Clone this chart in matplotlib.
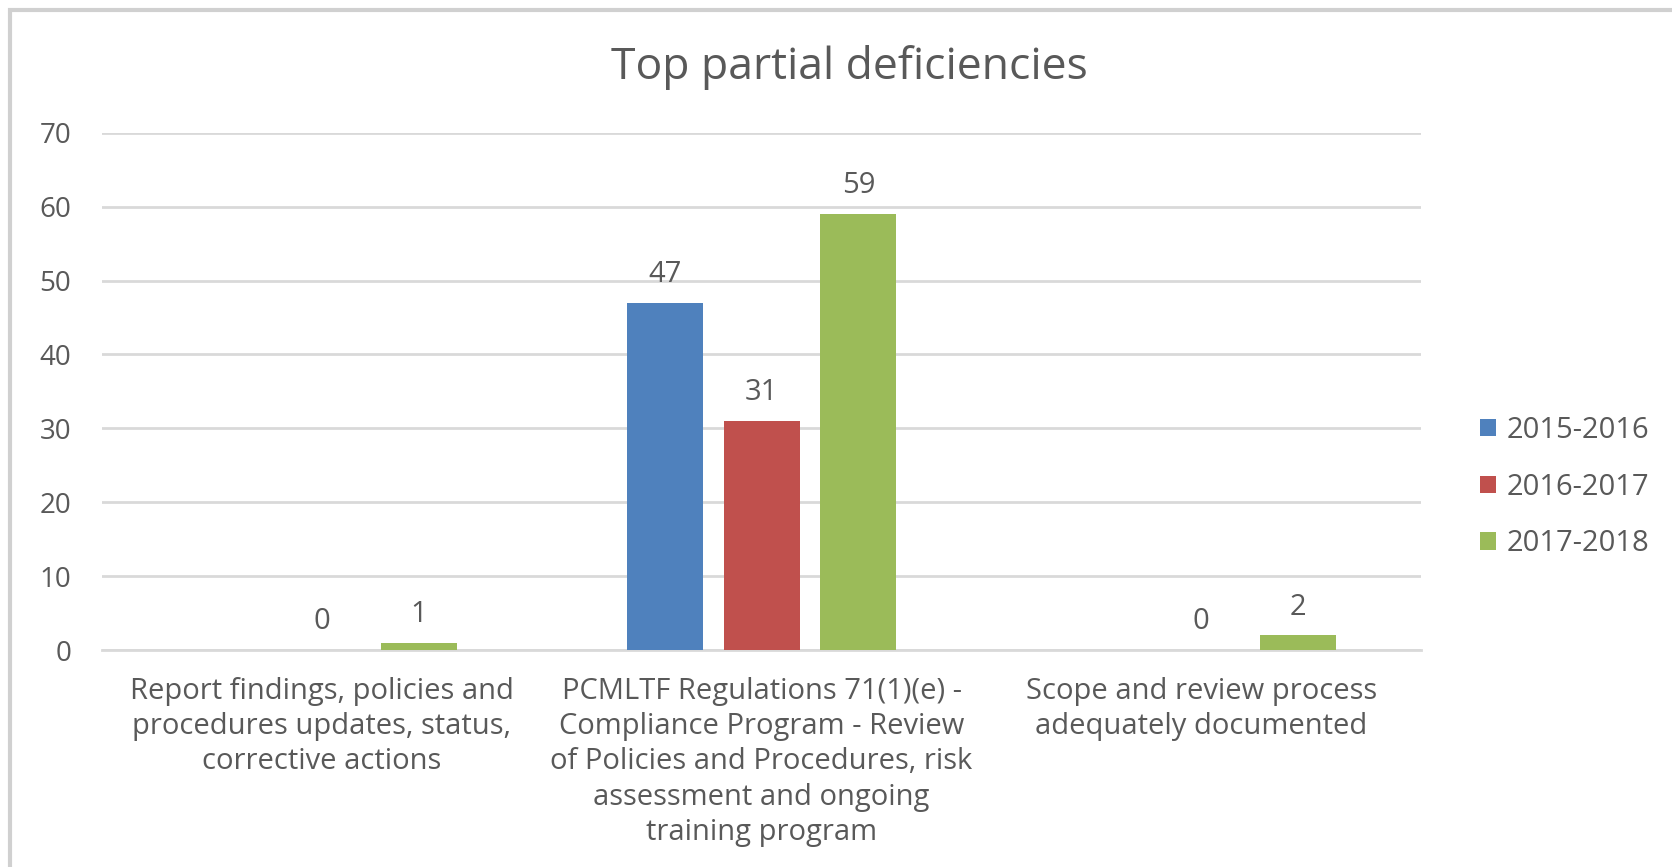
import numpy as np
import matplotlib
matplotlib.use("Agg")
import matplotlib.pyplot as plt
from matplotlib.patches import Rectangle

plt.rcParams['font.family'] = ['Open Sans', 'DejaVu Sans']

# chart data
categories = [
    "Report findings, policies and\nprocedures updates, status,\ncorrective actions",
    "PCMLTF Regulations 71(1)(e) -\nCompliance Program - Review\nof Policies and Procedures, risk\nassessment and ongoing\ntraining program",
    "Scope and review process\nadequately documented",
]
series_names = ["2015-2016", "2016-2017", "2017-2018"]
vals_2015 = [np.nan, 47, np.nan]   # no bar / label for the outer groups
vals_2016 = [0, 31, 0]
vals_2017 = [1, 59, 2]
colors = ["#4F81BD", "#C0504D", "#9BBB59"]

TEXT = "#595959"
GRID = "#D9D9D9"

fig = plt.figure(figsize=(16.72, 8.67), dpi=100)
ax = fig.add_axes([0.061, 0.250, 0.789, 0.597])

x = np.arange(len(categories))
width = 0.173
step = 0.22

for i, (name, vals, c) in enumerate(zip(series_names, [vals_2015, vals_2016, vals_2017], colors)):
    pos = x + (i - 1) * step
    ax.bar(pos, np.nan_to_num(vals), width, color=c, label=name, zorder=3)
    for p, v in zip(pos, vals):
        if np.isnan(v):
            continue
        ax.annotate(f"{int(v)}", (p, v), xytext=(0, 10), textcoords="offset points",
                    ha="center", va="bottom", fontsize=21, color=TEXT)

ax.set_xlim(-0.5, 2.5)
ax.set_ylim(0, 70)
ax.set_yticks(range(0, 71, 10))
ax.yaxis.grid(True, color=GRID, linewidth=2, zorder=0)
ax.set_axisbelow(True)
for s in ["top", "right", "left"]:
    ax.spines[s].set_visible(False)
ax.spines["bottom"].set_color(GRID)
ax.spines["bottom"].set_linewidth(2)
ax.tick_params(axis="both", length=0, labelsize=20, labelcolor=TEXT)
ax.tick_params(axis="y", pad=22)
ax.tick_params(axis="x", pad=19, labelsize=21)
ax.set_xticks(x)
ax.set_xticklabels(categories, linespacing=1.29)

fig.text(0.508, 0.922, "Top partial deficiencies", ha="center", va="center",
         fontsize=32, color=TEXT)

leg = ax.legend(loc="center left", bbox_to_anchor=(1.025, 0.315), frameon=False,
                fontsize=21, handlelength=0.55, handleheight=0.55, handletextpad=0.35,
                labelspacing=0.95, labelcolor=TEXT)

# light outer border of the chart box
fig.patches.append(Rectangle((0.006, -0.05), 1.1, 1.038, transform=fig.transFigure,
                             fill=False, edgecolor="#D0D0D0", linewidth=3))

fig.savefig("out.png", dpi=100)
